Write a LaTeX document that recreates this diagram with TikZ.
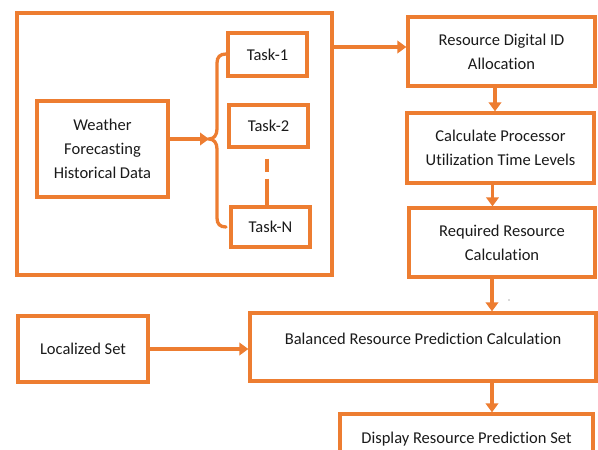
\documentclass[tikz,border=0pt]{standalone}
\usepackage{fontspec}
\setmainfont{Carlito}[Ligatures=NoCommon]
\usetikzlibrary{arrows.meta}
\definecolor{flow}{HTML}{ED7D31}
\definecolor{ink}{HTML}{1A1A1A}
\begin{document}
\begin{tikzpicture}[x=1pt,y=-1pt,
  box/.style={draw=flow, line width=3.3pt, inner sep=0pt, align=center,
    font=\fontsize{16.5}{24}\selectfont, text=ink},
  lift/.style={text height=11pt, text depth=#1},
  arr/.style={draw=flow, line width=3.3pt, -{Triangle[length=9pt,width=12.5pt]}},
  link/.style={draw=flow, line width=3.3pt},
]
\useasboundingbox (0,0) rectangle (598,450);
\clip (0,0) rectangle (598,450);

% task grouping frame
\node[box, minimum width=315pt, minimum height=262pt] (grp) at (174.5,144) {};
\node[box, minimum width=131pt, minimum height=96pt] (wfd) at (102.5,149)
  {Weather\\Forecasting\\Historical Data};
\node[box, minimum width=79pt, minimum height=43pt] (t1) at (267.5,54.5) {Task-1};
\node[box, minimum width=79pt, minimum height=42pt] (t2) at (268.5,126) {Task-2};
\node[box, minimum width=79pt, minimum height=40pt] (tn) at (270.5,227) {Task-N};

% processing chain
\node[box, minimum width=187pt, minimum height=69pt] (rda) at (501.5,51.5)
  {Resource Digital ID\\Allocation};
\node[box, minimum width=187pt, minimum height=70pt] (cpu) at (500.5,148)
  {Calculate Processor\\Utilization Time Levels};
\node[box, minimum width=186pt, minimum height=69pt] (req) at (502,242.5)
  {Required Resource\\Calculation};
\node[box, minimum width=130pt, minimum height=66pt] (loc) at (83,349) {Localized Set};
\node[box, lift=16.4pt, minimum width=346pt, minimum height=68pt] (bal) at (423,347)
  {Balanced Resource Prediction Calculation};
\node[box, lift=18.4pt, minimum width=253pt, minimum height=66pt] (disp) at (466.5,447)
  {Display Resource Prediction Set};

% brace fanning out to the tasks
\coordinate (tip) at (209,139);
\draw[link, line cap=round]
  (226,54) .. controls (220,54) and (217,57) .. (217,63)
  -- (217,129) .. controls (217,135) and (214,139) .. (tip)
  .. controls (214,139) and (217,143) .. (217,149)
  -- (217,218) .. controls (217,224) and (220,227) .. (226,227);
\draw[arr] (wfd.east |- tip) -- (tip);

% elided tasks between Task-2 and Task-N
\draw[link, dash pattern=on 13pt off 7pt on 40pt]
  ([xshift=-3.5pt,yshift=-10pt]tn.north |- t2.south) -- ([xshift=-3.5pt]tn.north);

% flow connectors
\coordinate (rdain) at ([yshift=4.5pt]rda.west);
\draw[arr] (grp.east |- rdain) -- (rdain);
\draw[arr] ([xshift=-6.5pt]rda.south) -- ([xshift=-6.5pt]rda.south |- cpu.north);
\draw[arr] ([xshift=-8pt]cpu.south) -- ([xshift=-8pt]cpu.south |- req.north);
\draw[arr] ([xshift=-10pt]req.south) -- ([xshift=-10pt]req.south |- bal.north);
\draw[arr] ([xshift=-10pt]req.south |- bal.south) -- ([xshift=-10pt]req.south |- disp.north);
\draw[arr] (loc.east) -- (loc.east -| bal.west);

\fill[ink!70] (509,300) circle (0.6pt);
\end{tikzpicture}
\end{document}
